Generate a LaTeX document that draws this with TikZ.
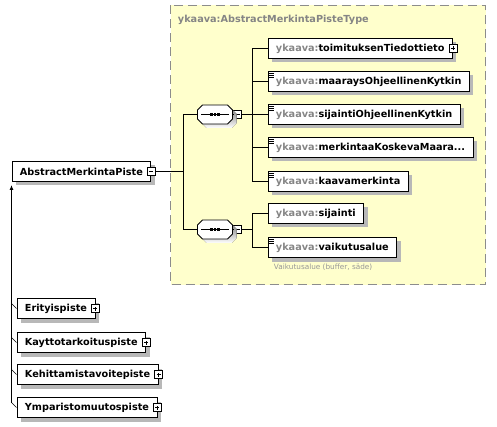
\documentclass[tikz,border=0pt]{standalone}
\usepackage{fontspec}
\setmainfont{DejaVu Sans}
\usetikzlibrary{shadows,arrows.meta}
\definecolor{groupfill}{HTML}{FFFFCC}
\definecolor{groupline}{HTML}{8C8C8C}
\definecolor{nsgray}{HTML}{858585}
\definecolor{shade}{HTML}{B8B8B8}
\newcommand{\yk}{\textcolor{nsgray}{ykaava:}}
\tikzset{
    flat/.style={drop shadow={fill=shade, opacity=1, shadow xshift=4pt, shadow yshift=-4pt}},
    el/.style={rectangle, draw, fill=white, anchor=west, minimum height=20pt,
        inner xsep=8pt, inner ysep=0pt, flat},
    doc/.style={path picture={
        \foreach \yy in {1.5,3.5,5.5}
            \draw[line width=.7pt] ([shift={(1.5pt,-\yy pt)}]path picture bounding box.north west) -- ++(5pt,0);}},
    sign/.style={rectangle, draw, fill=white, minimum size=8pt, inner sep=0pt, line width=.8pt},
    minus/.style={sign, path picture={
        \draw ([xshift=2pt]path picture bounding box.west) -- ([xshift=-2pt]path picture bounding box.east);}},
    plus/.style={sign, path picture={
        \draw ([xshift=2pt]path picture bounding box.west) -- ([xshift=-2pt]path picture bounding box.east);
        \draw ([yshift=2pt]path picture bounding box.south) -- ([yshift=-2pt]path picture bounding box.north);}},
    seq/.style={rectangle, minimum width=35pt, minimum height=19pt, inner sep=0pt}
}
\newcommand{\octa}{(-17.5,-4.5) -- (-12.5,-9.5) -- (12.5,-9.5) -- (17.5,-4.5) -- (17.5,4.5) -- (12.5,9.5) -- (-12.5,9.5) -- (-17.5,4.5) -- cycle}
\begin{document}
\begin{tikzpicture}[x=1pt, y=-1pt, line width=.9pt, font=\fontsize{9.7}{11}\selectfont\bfseries]
    \useasboundingbox (0,0) rectangle (497,427);
    \begin{scope}[shift={(0.5,0.5)}]
    % complex type
    \draw[groupline, fill=groupfill, dash pattern=on 9pt off 5pt] (170,5) rectangle (485,284);
    \node[text=nsgray, anchor=west, inner sep=0pt] (t) at (177,19) {ykaava:AbstractMerkintaPisteType};

    % base element
    \node[el] (0) at (11,171) {AbstractMerkintaPiste};
    \node[minus] (m0) at (0.east) {};

    % sequences
    \node[seq] (c1) at (214.5,114) {};
    \node[minus] (m1) at (237,114) {};
    \node[seq] (c2) at (214.5,229) {};
    \node[minus] (m2) at (237,229) {};
    \foreach \c in {c1,c2} {
        \fill[shade, shift={([shift={(4pt,-4pt)}]\c.center)}] \octa;
        \draw[fill=white, shift={(\c.center)}] \octa;
        \draw ([xshift=4pt]\c.west) -- ([xshift=-4pt]\c.east);
        \foreach \o in {-3.5,0,3.5}
            \fill ([xshift=\o pt]\c.center) +(-1.3,-1.3) rectangle +(1.3,1.3);
    }

    % children
    \node[el] (1) at (267,48) {\yk toimituksenTiedottieto\hspace{3pt}};
    \node[plus] (p1) at (1.east) {};
    \node[el, doc] (2) at (267,81) {\yk maaraysOhjeellinenKytkin};
    \node[el, doc] (3) at (267,114) {\yk sijaintiOhjeellinenKytkin};
    \node[el, doc] (4) at (267,147) {\yk merkintaaKoskevaMaara...};
    \node[el, doc] (5) at (267,181) {\yk kaavamerkinta};
    \node[el] (6) at (267,213) {\yk sijainti};
    \node[el, doc] (7) at (267,247) {\yk vaikutusalue};
    \node[text=nsgray!85, anchor=west, inner sep=0pt, font=\fontsize{7.3}{9}\selectfont]
        (a7) at (273,267) {Vaikutusalue (buffer, säde)};

    % connectors
    \coordinate (j0) at (183,171);
    \coordinate (j1) at (252,114);
    \coordinate (j2) at (252,229);
    \draw (m0.east) -- (j0) |- (c1.west);
    \draw (j0) |- (c2.west);
    \draw (c1.east) -- (m1.west);
    \draw (c2.east) -- (m2.west);
    \foreach \i in {1,...,5}
        \draw (m1.east) -- (j1) |- (\i.west);
    \foreach \i in {6,7}
        \draw (m2.east) -- (j2) |- (\i.west);

    % derived types
    \node[el] (8) at (16,308) {Erityispiste\hspace{3pt}};
    \node[el] (9) at (16,342) {Kayttotarkoituspiste\hspace{3pt}};
    \node[el] (10) at (16,374) {Kehittamistavoitepiste\hspace{3pt}};
    \node[el] (11) at (16,407) {Ymparistomuutospiste\hspace{3pt}};
    \foreach \i in {8,...,11} {
        \node[plus] at (\i.east) {};
        \draw[line width=.6pt] ([yshift=5pt]\i.west -| 0.south west) -- (\i.west);
    }
    \draw[-{Latex[length=5pt,width=4pt]}] ([yshift=5pt]11.west -| 0.south west) -- ([yshift=-3pt]0.south west);
    \end{scope}
\end{tikzpicture}
\end{document}
